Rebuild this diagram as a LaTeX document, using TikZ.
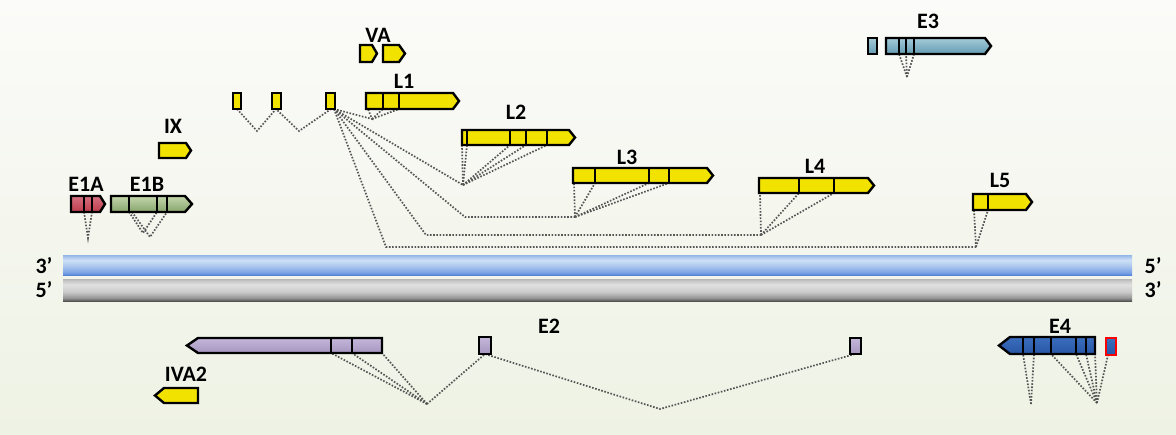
\documentclass[tikz,border=0pt]{standalone}
\usepackage{fontspec}
\setmainfont{Carlito}
\definecolor{yel}{HTML}{F2E200}
\definecolor{dotc}{HTML}{555555}
\definecolor{bb1}{RGB}{84,134,216}
\definecolor{bb2}{RGB}{122,162,228}
\definecolor{bb3}{RGB}{172,200,238}
\definecolor{bb4}{RGB}{206,224,246}
\definecolor{bb5}{RGB}{168,196,236}
\definecolor{bb6}{RGB}{146,180,230}
\definecolor{gb1}{RGB}{84,84,84}
\definecolor{gb2}{RGB}{150,150,150}
\definecolor{gb3}{RGB}{202,202,202}
\definecolor{gb4}{RGB}{224,224,224}
\definecolor{gb5}{RGB}{200,200,200}
\definecolor{gb6}{RGB}{182,182,182}
\pgfdeclareverticalshading{bluebar}{100bp}{color(0bp)=(bb1); color(25bp)=(bb1); color(31bp)=(bb2); color(48bp)=(bb3); color(62bp)=(bb4); color(71bp)=(bb5); color(75bp)=(bb6); color(100bp)=(bb6)}
\pgfdeclareverticalshading{graybar}{100bp}{color(0bp)=(gb1); color(25bp)=(gb1); color(32bp)=(gb2); color(46bp)=(gb3); color(62bp)=(gb4); color(71bp)=(gb5); color(75bp)=(gb6); color(100bp)=(gb6)}
\tikzset{
  exon/.style={draw=black, line width=2.4pt, line join=miter},
  yex/.style={exon, fill=yel},
  e1aex/.style={exon, top color={rgb,255:red,214;green,112;blue,128}, middle color={rgb,255:red,242;green,196;blue,202}, bottom color={rgb,255:red,190;green,60;blue,76}},
  e1bex/.style={exon, top color={rgb,255:red,196;green,214;blue,172}, middle color={rgb,255:red,226;green,234;blue,210}, bottom color={rgb,255:red,134;green,164;blue,108}},
  e3ex/.style={exon, top color={rgb,255:red,164;green,202;blue,216}, middle color={rgb,255:red,218;green,234;blue,240}, bottom color={rgb,255:red,100;green,156;blue,178}},
  e2ex/.style={exon, top color={rgb,255:red,196;green,182;blue,218}, middle color={rgb,255:red,236;green,228;blue,244}, bottom color={rgb,255:red,166;green,150;blue,192}},
  e4ex/.style={exon, top color={rgb,255:red,58;green,110;blue,190}, middle color={rgb,255:red,96;green,146;blue,216}, bottom color={rgb,255:red,40;green,86;blue,164}},
  div/.style={draw=black, line width=2.2pt},
  dotl/.style={draw=dotc, line width=1.7pt, dash pattern=on 1.6pt off 1.6pt},
  lbl/.style={font=\bfseries\fontsize{22}{22}\selectfont, inner sep=0pt},
}
\begin{document}
\begin{tikzpicture}[x=1pt,y=-1pt]
\useasboundingbox (0,0) rectangle (1176,434);
\fill[top color={rgb,255:red,251;green,251;blue,249}, bottom color={rgb,255:red,238;green,242;blue,228}] (0,0) rectangle (1176,434);

% ---- DNA strands ----
\shade[shading=bluebar] (63,255) rectangle (1132,275);
\shade[shading=graybar] (63,279) rectangle (1132,301);
\node[lbl] (p3l) at (44,266) {3’};
\node[lbl] (p5l) at (44,290) {5’};
\node[lbl] (p5r) at (1153,266) {5’};
\node[lbl] (p3r) at (1153,290) {3’};

% ---- coordinates for connectors ----
\coordinate (a1) at (84,212); \coordinate (a2) at (92,212); \coordinate (ja) at (88,238);
\coordinate (b1) at (129,212); \coordinate (b1b) at (132,212); \coordinate (b2) at (157,212); \coordinate (b3) at (167,212);
\coordinate (jb1) at (143,233); \coordinate (jb2) at (150,237);
\coordinate (le1) at (237,109); \coordinate (le2) at (276,109); \coordinate (le3) at (331,109); \coordinate (le3r) at (334,109);
\coordinate (v1) at (257,131); \coordinate (v2) at (299,131);
\coordinate (l1a) at (368,109); \coordinate (l1b) at (383,109); \coordinate (l1c) at (399,109); \coordinate (jl1) at (372,119);
\coordinate (jl2) at (463,185);
\coordinate (l2a) at (462,145); \coordinate (l2b) at (467,145); \coordinate (l2c) at (510,145); \coordinate (l2d) at (526,145); \coordinate (l2e) at (547,145);
\coordinate (k3) at (465,217); \coordinate (jl3) at (575,217);
\coordinate (l3a) at (574,183); \coordinate (l3b) at (595,183); \coordinate (l3c) at (649,183); \coordinate (l3d) at (669,183);
\coordinate (k4) at (426,235); \coordinate (jl4) at (761,235);
\coordinate (l4a) at (760,193); \coordinate (l4b) at (799,193); \coordinate (l4c) at (834,193);
\coordinate (k5) at (386,247); \coordinate (jl5) at (976,247);
\coordinate (l5a) at (974,210); \coordinate (l5b) at (988,210);
\coordinate (e3a) at (899,54); \coordinate (e3b) at (906,54); \coordinate (e3c) at (914,54); \coordinate (je3) at (907,77);
\coordinate (e2a) at (331,353); \coordinate (e2b) at (352,353); \coordinate (e2c) at (382,353); \coordinate (je2a) at (427,404);
\coordinate (e2s1) at (485,354); \coordinate (je2b) at (660,409); \coordinate (e2s2) at (855,354);
\coordinate (e4a) at (1023,354); \coordinate (e4b) at (1034,354); \coordinate (je4a) at (1031,404);
\coordinate (e4c) at (1051,354); \coordinate (e4d) at (1076,354); \coordinate (e4e) at (1086,354); \coordinate (e4f) at (1095,354); \coordinate (e4g) at (1108,355); \coordinate (je4b) at (1097,403);

% ---- dotted splice connectors ----
\draw[dotl] (a1) -- (ja) -- (a2);
\draw[dotl] (b1) -- (jb1) -- (b2);
\draw[dotl] (b1b) -- (jb2) -- (b3);
\draw[dotl] (le1) -- (v1) -- (le2) -- (v2) -- (le3);
\draw[dotl] (le3r) -- (jl1) -- (l1a);
\draw[dotl] (jl1) -- (l1b);
\draw[dotl] (jl1) -- (l1c);
\draw[dotl] (le3r) -- (jl2);
\foreach \p in {l2a,l2b,l2c,l2d,l2e} \draw[dotl] (jl2) -- (\p);
\draw[dotl] (le3r) -- (k3) -- (jl3);
\foreach \p in {l3a,l3b,l3c,l3d} \draw[dotl] (jl3) -- (\p);
\draw[dotl] (le3r) -- (k4) -- (jl4);
\foreach \p in {l4a,l4b,l4c} \draw[dotl] (jl4) -- (\p);
\draw[dotl] (le3r) -- (k5) -- (jl5);
\foreach \p in {l5a,l5b} \draw[dotl] (jl5) -- (\p);
\foreach \p in {e3a,e3b,e3c} \draw[dotl] (je3) -- (\p);
\foreach \p in {e2a,e2b,e2c} \draw[dotl] (je2a) -- (\p);
\draw[dotl] (je2a) -- (e2s1) -- (je2b) -- (e2s2);
\foreach \p in {e4a,e4b} \draw[dotl] (je4a) -- (\p);
\foreach \p in {e4c,e4d,e4e,e4f,e4g} \draw[dotl] (je4b) -- (\p);

% ---- E1A / E1B / IX ----
\draw[e1aex] (71,196) -- (100,196) -- (105,204) -- (100,212) -- (71,212) -- cycle;
\draw[div] (84,196) -- (84,212) (92,196) -- (92,212);
\draw[e1bex] (111,196) -- (185,196) -- (192,204) -- (185,212) -- (111,212) -- cycle;
\draw[div] (129,196) -- (129,212) (157,196) -- (157,212) (167,196) -- (167,212);
\draw[yex] (159,143) -- (186,143) -- (191,150.5) -- (186,158) -- (159,158) -- cycle;
\node[lbl] (tE1A) at (86,184) {E1A};
\node[lbl] (tE1B) at (147,184) {E1B};
\node[lbl] (tIX) at (173,126) {IX};

% ---- VA ----
\draw[yex] (360,45) -- (372,45) -- (377,53.5) -- (372,62) -- (360,62) -- cycle;
\draw[yex] (383,45) -- (399,45) -- (405,53.5) -- (399,62) -- (383,62) -- cycle;
\node[lbl] (tVA) at (378,35) {VA};

% ---- leader exons and L1..L5 ----
\draw[yex] (233,93) rectangle (241,109);
\draw[yex] (272,93) rectangle (281,109);
\draw[yex] (326,93) rectangle (335,109);
\draw[yex] (366,93) -- (453,93) -- (459,101) -- (453,109) -- (366,109) -- cycle;
\draw[div] (383,93) -- (383,109) (399,93) -- (399,109);
\node[lbl] (tL1) at (404,81) {L1};
\draw[yex] (462,130) -- (569,130) -- (575,137.5) -- (569,145) -- (462,145) -- cycle;
\draw[div] (467,130) -- (467,145) (510,130) -- (510,145) (526,130) -- (526,145) (547,130) -- (547,145);
\node[lbl] (tL2) at (516,112) {L2};
\draw[yex] (573,168) -- (707,168) -- (713,175.5) -- (707,183) -- (573,183) -- cycle;
\draw[div] (595,168) -- (595,183) (649,168) -- (649,183) (669,168) -- (669,183);
\node[lbl] (tL3) at (627,157) {L3};
\draw[yex] (759,178) -- (868,178) -- (874,185.5) -- (868,193) -- (759,193) -- cycle;
\draw[div] (799,178) -- (799,193) (834,178) -- (834,193);
\node[lbl] (tL4) at (815,166) {L4};
\draw[yex] (973,194) -- (1026,194) -- (1032,202) -- (1026,210) -- (973,210) -- cycle;
\draw[div] (988,194) -- (988,210);
\node[lbl] (tL5) at (1000,180) {L5};

% ---- E3 ----
\draw[e3ex] (868,38) rectangle (877,54);
\draw[e3ex] (886,38) -- (985,38) -- (991,46) -- (985,54) -- (886,54) -- cycle;
\draw[div] (899,38) -- (899,54) (906,38) -- (906,54) (914,38) -- (914,54);
\node[lbl] (tE3) at (928,21) {E3};

% ---- E2 ----
\draw[e2ex] (198,338) -- (382,338) -- (382,353) -- (198,353) -- (187,345.5) -- cycle;
\draw[div] (331,338) -- (331,353) (352,338) -- (352,353);
\draw[e2ex] (479,337) rectangle (491,354);
\draw[e2ex] (850,338) rectangle (861,354);
\node[lbl] (tE2) at (549,326) {E2};

% ---- IVA2 ----
\draw[yex] (164,388) -- (198,388) -- (198,403) -- (164,403) -- (155,395.5) -- cycle;
\node[lbl] (tIVA2) at (186,374) {IVA2};

% ---- E4 ----
\draw[e4ex] (1010,337) -- (1095,337) -- (1095,354) -- (1010,354) -- (999,345.5) -- cycle;
\draw[div] (1023,337) -- (1023,354) (1034,337) -- (1034,354) (1051,337) -- (1051,354) (1076,337) -- (1076,354) (1086,337) -- (1086,354);
\draw[e4ex, draw=red] (1106,338) rectangle (1116,355);
\node[lbl] (tE4) at (1060,326) {E4};
\end{tikzpicture}
\end{document}
